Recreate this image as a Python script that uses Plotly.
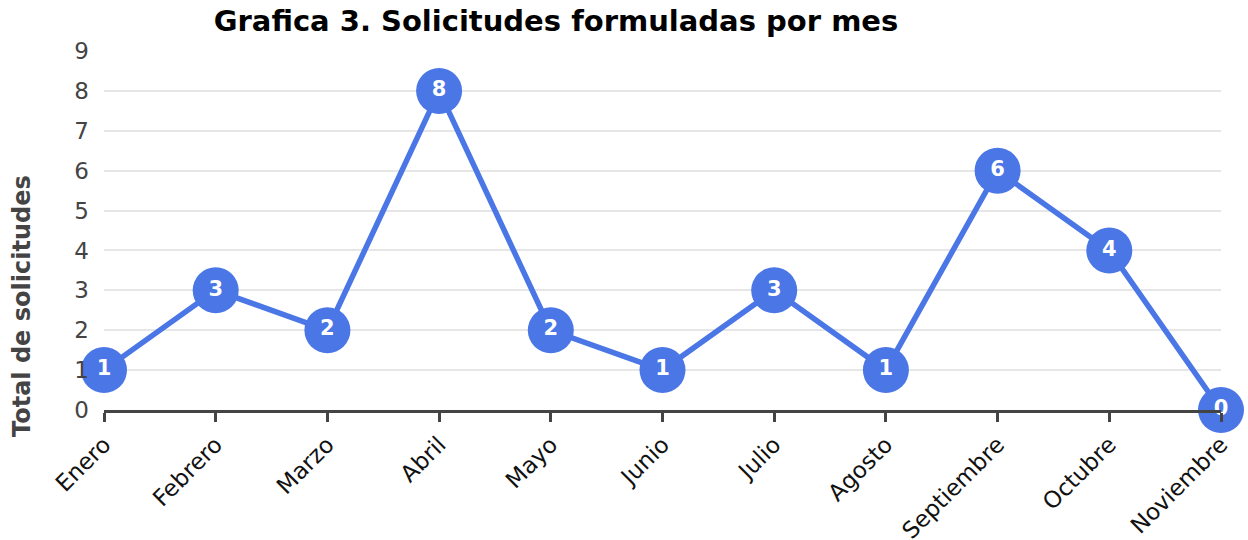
import plotly.graph_objects as go

meses = ["Enero", "Febrero", "Marzo", "Abril", "Mayo", "Junio", "Julio",
         "Agosto", "Septiembre", "Octubre", "Noviembre"]
solicitudes = [1, 3, 2, 8, 2, 1, 3, 1, 6, 4, 0]
y_ticks = list(range(0, 10))

color = "#4a76e6"
fig = go.Figure(go.Scatter(
    x=list(range(len(meses))), y=solicitudes,
    mode="lines+markers+text",
    line=dict(color=color, width=5.5),
    marker=dict(size=46, color=color),
    text=[str(v) for v in solicitudes],
    textposition="middle center",
    textfont=dict(family="DejaVu Sans", size=21, color="white", weight="bold"),
    cliponaxis=False,
    hoverinfo="skip",
))

fig.update_layout(
    width=1248, height=540,
    margin=dict(l=104, r=27, t=51, b=130, autoexpand=False),
    plot_bgcolor="white", paper_bgcolor="white",
    font=dict(family="DejaVu Sans", size=24, color="#444"),
    showlegend=False,
    title=dict(text="<b>Grafica 3. Solicitudes formuladas por mes</b>",
               x=556/1248, xanchor="center", xref="container",
               y=1 - 21/540, yanchor="middle", yref="container",
               font=dict(family="DejaVu Sans", size=29, color="black")),
    xaxis=dict(
        range=[0, 10], tickmode="array",
        tickvals=list(range(len(meses))), ticktext=meses,
        tickangle=-45, tickfont=dict(size=23, color="#111"),
        ticks="outside", ticklen=9, tickwidth=3, tickcolor="#444",
        showline=True, linecolor="#444", linewidth=3,
        showgrid=False, zeroline=False, fixedrange=True, automargin=False,
    ),
    yaxis=dict(
        range=[0, 9], tickmode="array", tickvals=y_ticks,
        tickfont=dict(size=23, color="#444"),
        showgrid=True, gridcolor="#e6e6e6", gridwidth=2,
        zeroline=False, showline=False, ticks="", ticklabelstandoff=14,
        automargin=False, fixedrange=True,
    ),
    annotations=[dict(
        text="<b>Total de solicitudes</b>", textangle=-90,
        xref="paper", yref="paper",
        x=(22 - 104) / 1117, y=(410 - 306) / 359,
        xanchor="center", yanchor="middle", showarrow=False,
        font=dict(family="DejaVu Sans", size=24, color="#444"),
    )],
)

fig.write_html("out.html", config={"displayModeBar": False},
               post_script="document.body.style.margin='0';document.body.style.padding='0';")
